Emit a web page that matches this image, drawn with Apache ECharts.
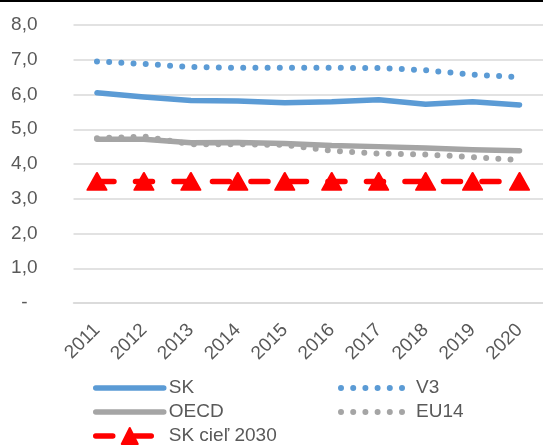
<!DOCTYPE html>
<html>
<head>
<meta charset="utf-8">
<script src="https://cdn.jsdelivr.net/npm/echarts@6/dist/echarts.min.js"></script>
<style>
  html, body { margin: 0; padding: 0; background: #fff; }
  #chart { width: 543px; height: 447px; }
</style>
</head>
<body>
<div id="chart"></div>
<script>
// Years on the category axis
const years = ['2011', '2012', '2013', '2014', '2015', '2016', '2017', '2018', '2019', '2020'];

// Series values
const skValues   = [6.05, 5.93, 5.83, 5.81, 5.76, 5.79, 5.85, 5.72, 5.79, 5.70];
const v3Values   = [6.95, 6.88, 6.79, 6.77, 6.77, 6.77, 6.76, 6.70, 6.57, 6.50];
const oecdValues = [4.71, 4.71, 4.61, 4.62, 4.59, 4.53, 4.50, 4.46, 4.41, 4.38];
const eu14Values = [4.74, 4.79, 4.57, 4.57, 4.55, 4.38, 4.30, 4.27, 4.20, 4.11];
const targetValues = [3.5, 3.5, 3.5, 3.5, 3.5, 3.5, 3.5, 3.5, 3.5, 3.5];

// Value-axis tick labels, indexed by tick value 0..8
const yTickLabels = ['-', '1,0', '2,0', '3,0', '4,0', '5,0', '6,0', '7,0', '8,0'];

const BLUE = '#5B9BD5';
const GRAY = '#A5A5A5';
const RED = '#FF0000';
const TEXT = '#595959';
const GRID = '#D9D9D9';
const FONT = '"Liberation Sans", Arial, sans-serif';

const chart = echarts.init(document.getElementById('chart'), null, { renderer: 'canvas' });

const solid = (color) => ({ color: color, width: 5.5, cap: 'round', join: 'round' });
const dotted = (color) => ({ color: color, width: 6, type: [0, 12.2], cap: 'round' });

const legendText = { fontSize: 19, color: TEXT, fontFamily: FONT, lineHeight: 20 };

chart.setOption({
  animation: false,
  backgroundColor: '#fff',
  textStyle: { fontFamily: FONT },
  graphic: [
    { type: 'rect', left: 0, top: 0, shape: { width: 543, height: 2 }, style: { fill: '#000' } }
  ],
  grid: { left: 73.5, right: 0, top: 25, bottom: 144, containLabel: false },
  xAxis: {
    type: 'category',
    data: years,
    boundaryGap: true,
    axisTick: { show: false },
    axisLine: { show: true, lineStyle: { color: GRID, width: 1.5 } },
    axisLabel: {
      interval: 0, rotate: 45, margin: 24,
      fontSize: 19, color: TEXT, fontFamily: FONT
    }
  },
  yAxis: {
    type: 'value',
    min: 0, max: 8, interval: 1,
    axisLine: { show: false },
    axisTick: { show: false },
    splitLine: { show: true, lineStyle: { color: GRID, width: 1.5 } },
    axisLabel: {
      margin: 36, fontSize: 19, color: TEXT, fontFamily: FONT,
      formatter: (v) => v === 0 ? '{z|' + yTickLabels[0] + '}' : yTickLabels[v],
      rich: { z: { fontSize: 19, color: TEXT, fontFamily: FONT, padding: [0, 10, 0, 0] } }
    }
  },
  legend: [
    {
      left: 93, top: 378, orient: 'vertical', padding: 0,
      itemWidth: 68, itemHeight: 20, itemGap: 4,
      textStyle: legendText,
      lineStyle: { width: 5.5 },
      itemStyle: { opacity: 0 },
      data: [
        { name: 'SK' },
        { name: 'OECD' },
        { name: 'SK cieľ 2030', itemStyle: { opacity: 1 } }
      ]
    },
    {
      left: 338, top: 378, orient: 'vertical', padding: 0,
      itemWidth: 70, itemHeight: 20, itemGap: 4,
      textStyle: legendText,
      lineStyle: { width: 6 },
      itemStyle: { opacity: 0 },
      data: [{ name: 'V3' }, { name: 'EU14' }]
    }
  ],
  series: [
    { name: 'SK', type: 'line', data: skValues, symbol: 'none', color: BLUE, lineStyle: solid(BLUE) },
    { name: 'V3', type: 'line', data: v3Values, symbol: 'none', color: BLUE, lineStyle: dotted(BLUE) },
    { name: 'OECD', type: 'line', data: oecdValues, symbol: 'none', color: GRAY, lineStyle: solid(GRAY) },
    { name: 'EU14', type: 'line', data: eu14Values, symbol: 'none', color: GRAY, lineStyle: dotted(GRAY) },
    {
      name: 'SK cieľ 2030', type: 'line', data: targetValues,
      symbol: 'triangle', symbolSize: [19, 17], color: RED,
      itemStyle: { color: RED, borderColor: RED, borderWidth: 2, borderJoin: 'round' },
      lineStyle: { color: RED, width: 5.5, type: [17, 21.5], cap: 'round' }
    }
  ]
});
</script>
</body>
</html>
